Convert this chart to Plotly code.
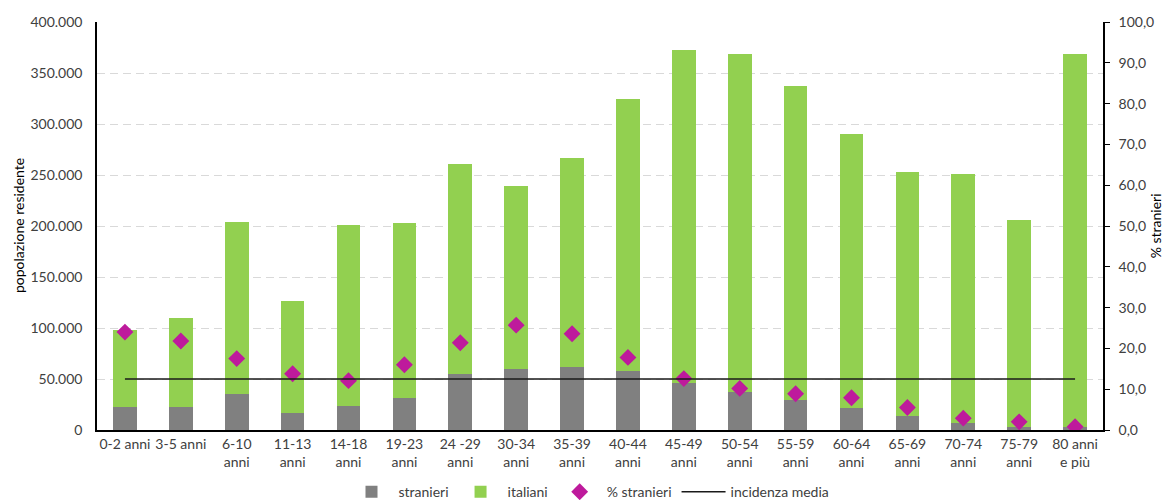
import plotly.graph_objects as go

# classi di età
classi = [
    "0-2 anni", "3-5 anni", "6-10<br>anni", "11-13<br>anni", "14-18<br>anni",
    "19-23<br>anni", "24 -29<br>anni", "30-34<br>anni", "35-39<br>anni",
    "40-44<br>anni", "45-49<br>anni", "50-54<br>anni", "55-59<br>anni",
    "60-64<br>anni", "65-69<br>anni", "70-74<br>anni", "75-79<br>anni",
    "80 anni<br>e più",
]

# popolazione residente totale (altezza della barra impilata)
totale = [98000, 109800, 203900, 126100, 201300, 202900, 260800, 238900, 266300,
          324800, 373000, 369000, 337200, 290200, 253000, 250700, 206200, 369000]

# stranieri
stranieri = [23000, 23000, 35000, 16400, 23600, 31800, 55000, 60000, 62200,
             57500, 46000, 37600, 29400, 21800, 13400, 6900, 3300, 2900]

# italiani = totale - stranieri
italiani = [t - s for t, s in zip(totale, stranieri)]

# % stranieri (asse destro)
pct_stranieri = [24.0, 21.8, 17.5, 13.8, 12.1, 16.0, 21.4, 25.7, 23.6,
                 17.8, 12.6, 10.2, 8.9, 7.9, 5.5, 2.9, 2.0, 0.8]

INCIDENZA_MEDIA = 12.5

FONT = "Lato, 'Open Sans', sans-serif"
TXT = "#404040"

fig = go.Figure()

fig.add_trace(go.Bar(
    x=classi, y=stranieri, name="stranieri",
    marker=dict(color="#808080", line=dict(width=0)),
))
fig.add_trace(go.Bar(
    x=classi, y=italiani, name="italiani",
    marker=dict(color="#92D050", line=dict(width=0)),
))
fig.add_trace(go.Scatter(
    x=classi, y=pct_stranieri, name="% stranieri", yaxis="y2",
    mode="markers",
    marker=dict(symbol="diamond", size=13, color="#BE1A9C"),
))
fig.add_trace(go.Scatter(
    x=classi, y=[INCIDENZA_MEDIA] * len(classi), name="incidenza media", yaxis="y2",
    mode="lines",
    line=dict(color="#1a1a1a", width=1.5),
))

# la pagina ha 8px di margine: la figura è ridotta di conseguenza
fig.update_layout(
    width=1163, height=492,
    margin=dict(l=89, r=68, t=14, b=70),
    paper_bgcolor="white", plot_bgcolor="white",
    barmode="stack", bargap=0.575,
    separators=",.",
    font=dict(family=FONT, size=14, color=TXT),
    showlegend=True,
    legend=dict(
        orientation="h", xref="container", yref="container",
        x=0.5, xanchor="center", y=0.016, yanchor="middle",
        font=dict(size=14, color=TXT), traceorder="normal",
        itemwidth=44,
    ),
    xaxis=dict(
        automargin=False, range=[-0.5, 17.5], tickangle=0,
        showline=True, linecolor="black", linewidth=1.5,
        ticks="", tickfont=dict(size=14, color=TXT),
        showgrid=False,
    ),
    yaxis=dict(
        automargin=False,
        range=[0, 400000], dtick=50000, tickformat=",d",
        showline=True, linecolor="black", linewidth=1.5,
        ticks="", ticklabelstandoff=10,
        showgrid=True, gridcolor="#D9D9D9", griddash="8px,5px", gridwidth=1,
        zeroline=False,
    ),
    yaxis2=dict(
        automargin=False,
        overlaying="y", side="right",
        range=[0, 100], dtick=10, tickformat=".1f",
        showline=True, linecolor="black", linewidth=1.5,
        ticks="outside", ticklen=5, tickcolor="black", ticklabelstandoff=6,
        showgrid=False, zeroline=False,
    ),
)

# titoli degli assi
fig.add_annotation(
    text="popolazione residente", textangle=-90,
    xref="paper", yref="paper", x=-0.0785, y=0.5,
    xanchor="center", yanchor="middle", showarrow=False,
    font=dict(size=14, color="black"),
)
fig.add_annotation(
    text="% stranieri", textangle=-90,
    xref="paper", yref="paper", x=1.052, y=0.5,
    xanchor="center", yanchor="middle", showarrow=False,
    font=dict(size=14, color="black"),
)

fig.write_html("out.html")
